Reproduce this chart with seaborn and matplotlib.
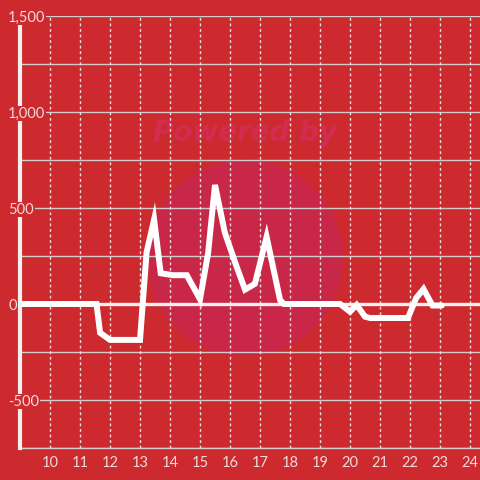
import matplotlib
matplotlib.use("Agg")
import matplotlib.pyplot as plt
import seaborn as sns
import pandas as pd
from matplotlib.patches import Ellipse

hours = [9.0, 11.55, 11.67, 12.0, 13.0, 13.22, 13.47, 13.69, 14.1, 14.56, 15.0,
         15.27, 15.5, 15.83, 16.22, 16.5, 16.83, 17.22, 17.67, 17.8, 19.67,
         20.0, 20.22, 20.5, 20.67, 21.93, 22.2, 22.45, 22.75, 23.06]
values = [0, 0, -150, -187, -187, 270, 440, 160, 150, 150, 25,
          265, 620, 370, 195, 75, 105, 350, 20, 0, 0,
          -40, -5, -66, -73, -73, 30, 78, -8, -8]
ytick_vals = [1500, 1000, 500, 0, -500]
ytick_labels = ["1,500", "1,000", "500", "0", "-500"]
xtick_vals = list(range(10, 25))

BG = "#CC2A2E"
LIGHT = "#F2DADA"

sns.set_theme(style="white")
plt.rcParams['font.family'] = ['Lato', 'DejaVu Sans']

fig = plt.figure(figsize=(4.8, 4.8), dpi=100)
fig.patch.set_facecolor(BG)
ax = fig.add_axes([20/480, 32/480, 460/480, 432/480])
ax.set_facecolor(BG)

# watermark
circ = Ellipse((0.489, 0.44), width=196/460, height=196/432, transform=ax.transAxes,
               facecolor="#C8274A", edgecolor="none", alpha=0.9, zorder=0)
ax.add_patch(circ)
ax.text(0.489, 0.729, "Powered by", transform=ax.transAxes, ha="center", va="center",
        fontsize=20, fontweight="bold", style="italic", color="#D02D50",
        family=["DejaVu Sans"], zorder=0.5)

# grid
for y in range(-750, 1501, 250):
    if y == 0:
        continue
    ax.axhline(y, color="#D0CCCC", lw=1.0, zorder=1)
for x in xtick_vals:
    ax.axvline(x, color="#F0E0E0", lw=1.0, ls=(0, (2, 2)), zorder=1)
ax.axhline(0, color="#F4F0F0", lw=2.4, zorder=2)

df = pd.DataFrame({"hour": hours, "value": values})
sns.lineplot(data=df, x="hour", y="value", ax=ax, color="white", lw=4.3,
             zorder=3, sort=False, solid_joinstyle="miter")

ax.set_xlim(9, 24.333)
ax.set_ylim(-750, 1500)
ax.set_xlabel("")
ax.set_ylabel("")

ax.set_xticks(xtick_vals)
ax.set_xticklabels([str(v) for v in xtick_vals])
ax.set_yticks(ytick_vals)
ax.set_yticklabels(ytick_labels)
ax.tick_params(axis="x", length=0, pad=6, labelsize=10.5, colors=LIGHT)
ax.tick_params(axis="y", length=0, pad=8.5, labelsize=10.5, colors=LIGHT)
for lab in ax.get_yticklabels():
    lab.set_horizontalalignment("left")
    lab.set_bbox(dict(facecolor=BG, edgecolor="none", pad=0.5))

for s in ["top", "right"]:
    ax.spines[s].set_visible(False)
ax.spines["left"].set_color("#F4F0F0")
ax.spines["left"].set_linewidth(3)
ax.spines["left"].set_zorder(5)
ax.spines["bottom"].set_color("#D0CCCC")
ax.spines["bottom"].set_linewidth(1)
ax.yaxis.set_zorder(6)
ax.xaxis.set_zorder(6)

fig.savefig("out.png", dpi=100, facecolor=BG)
